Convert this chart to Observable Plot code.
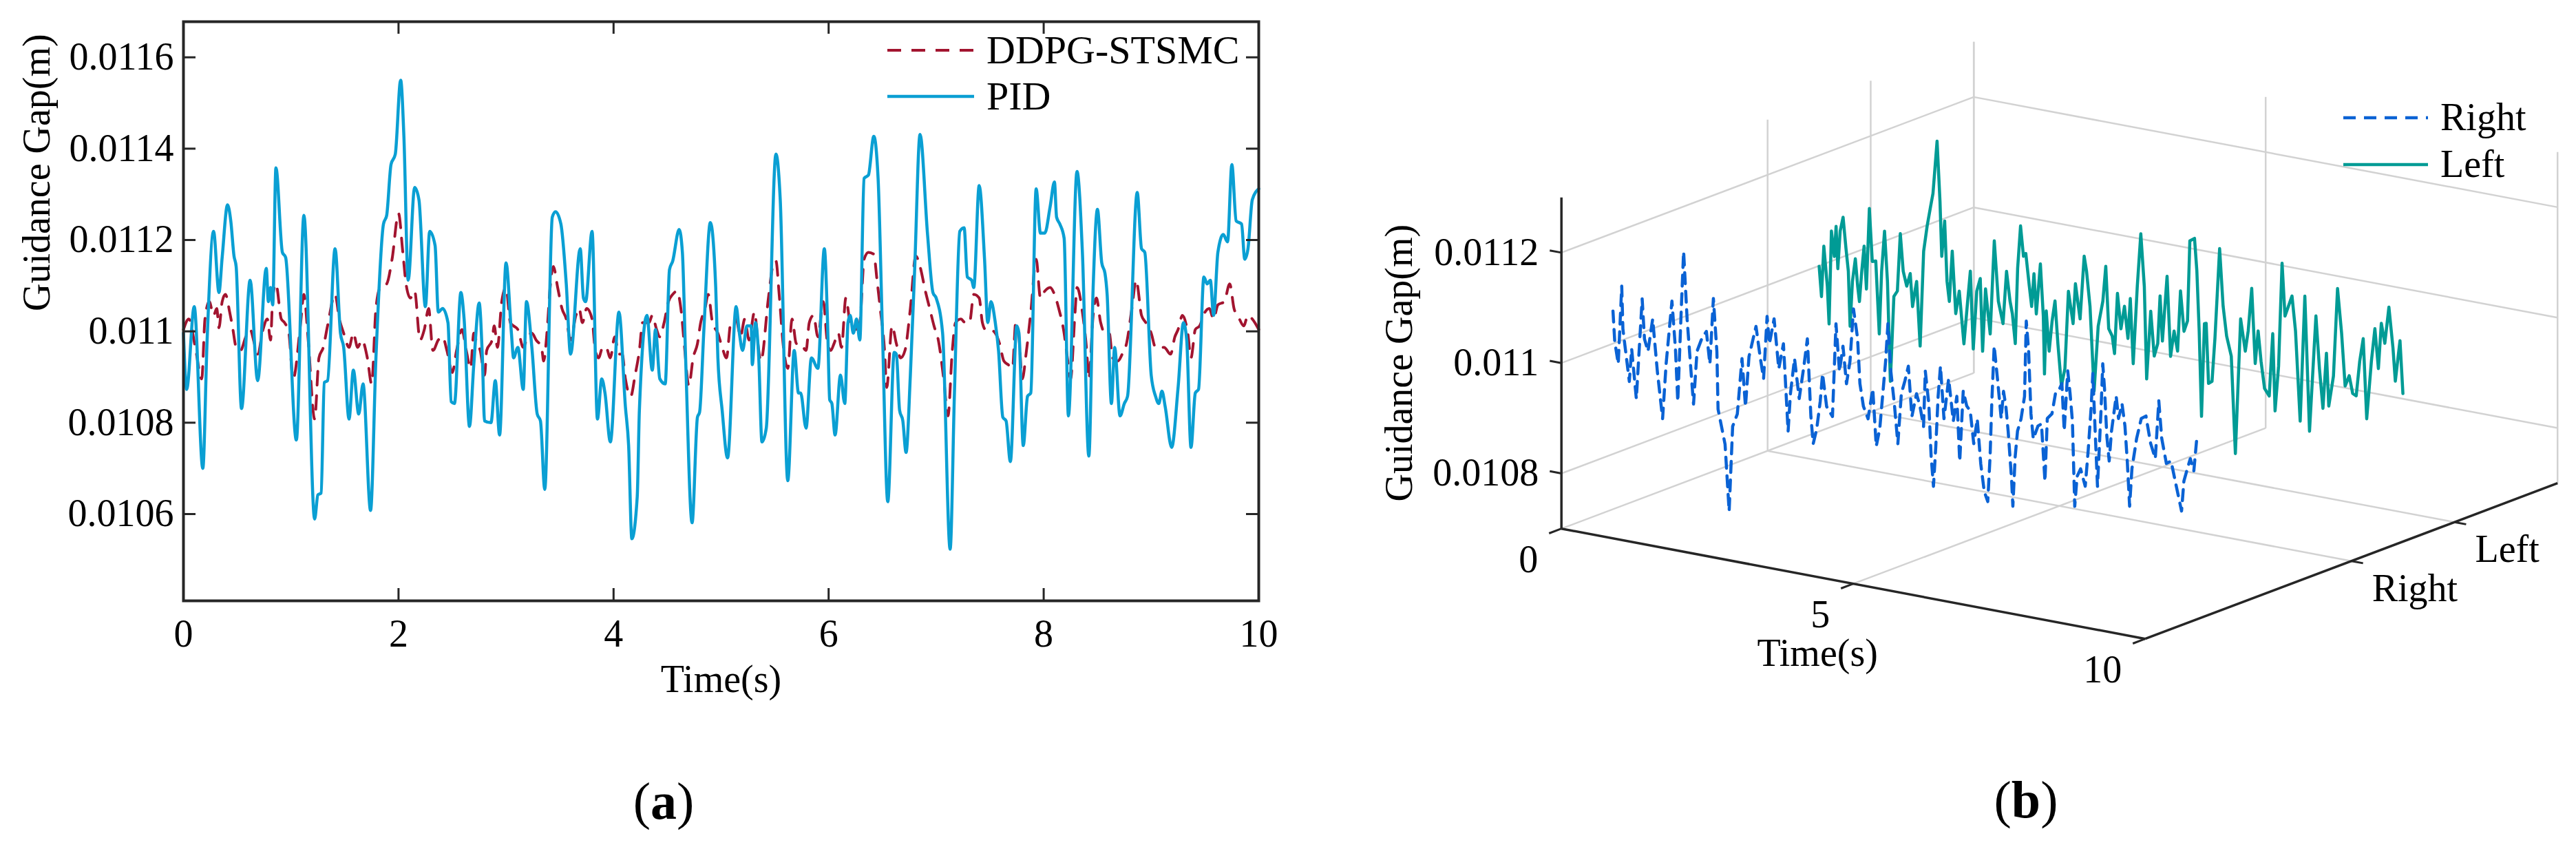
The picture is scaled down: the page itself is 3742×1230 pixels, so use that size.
<!DOCTYPE html>
<html><head><meta charset="utf-8">
<script src="https://cdn.jsdelivr.net/npm/d3@7"></script>
<script src="https://cdn.jsdelivr.net/npm/@observablehq/plot@0.6"></script>
<style>
html,body{margin:0;padding:0;background:#fff;}
#fig{position:relative;width:3742px;height:1230px;background:#fff;font-family:"Liberation Serif","Times New Roman",serif;overflow:hidden;}
.panel{position:absolute;top:0;}
.cap{position:absolute;font-size:76px;transform:translate(-50%,-50%);color:#000;white-space:nowrap;}
#legend{position:absolute;left:0;top:0;}
</style></head><body>
<div id="fig">
  <div id="pa" class="panel" style="left:0px"></div>
  <div id="pb" class="panel" style="left:1900px"></div>
  <div id="capA" class="cap" style="left:964px;top:1163px"></div>
  <div id="capB" class="cap" style="left:2943px;top:1161px"></div>
</div>
<script>
// ---------------- DATA : panel (a) ----------------
const seriesNamesA = ["DDPG-STSMC", "PID"];
const colorsA = ["#A2142F", "#0a9fd3"];
const xTicksA = [0, 2, 4, 6, 8, 10];
const xTickLabelsA = ["0", "2", "4", "6", "8", "10"];
const yTicksA = [0.0106, 0.0108, 0.011, 0.0112, 0.0114, 0.0116];
const yTickLabelsA = ["0.0106", "0.0108", "0.011", "0.0112", "0.0114", "0.0116"];
const yDomainA = [0.010410, 0.011678];
const xDomainA = [0, 10];

// [time (s), guidance gap (m)]
const pid = [[0.00,0.010996],[0.03,0.010873],[0.10,0.011054],[0.18,0.010700],[0.22,0.010981],[0.28,0.011219],[0.33,0.011085],[0.36,0.011162],[0.41,0.011277],[0.44,0.011242],[0.47,0.011165],[0.49,0.011142],[0.54,0.010831],[0.62,0.011112],[0.69,0.010892],[0.77,0.011138],[0.79,0.011065],[0.81,0.011096],[0.83,0.011058],[0.86,0.011358],[0.92,0.011173],[0.95,0.011162],[1.05,0.010762],[1.12,0.011254],[1.22,0.010589],[1.25,0.010642],[1.28,0.010646],[1.31,0.010888],[1.34,0.010892],[1.41,0.011181],[1.46,0.010996],[1.49,0.010965],[1.54,0.010808],[1.58,0.010915],[1.63,0.010819],[1.67,0.010885],[1.74,0.010608],[1.79,0.010942],[1.86,0.011235],[1.89,0.011254],[1.93,0.011365],[1.97,0.011388],[2.02,0.011550],[2.05,0.011427],[2.09,0.011112],[2.15,0.011315],[2.19,0.011288],[2.25,0.011054],[2.29,0.011219],[2.34,0.011188],[2.37,0.011042],[2.41,0.011050],[2.46,0.011019],[2.49,0.010846],[2.52,0.010842],[2.58,0.011085],[2.61,0.011027],[2.66,0.010792],[2.70,0.010927],[2.75,0.011062],[2.78,0.010942],[2.80,0.010804],[2.86,0.010800],[2.90,0.010892],[2.94,0.010773],[3.00,0.011150],[3.05,0.010996],[3.07,0.010942],[3.11,0.010965],[3.16,0.010873],[3.19,0.011065],[3.24,0.010965],[3.29,0.010819],[3.32,0.010804],[3.36,0.010654],[3.43,0.011250],[3.46,0.011262],[3.51,0.011235],[3.56,0.011104],[3.60,0.010950],[3.69,0.011181],[3.72,0.011073],[3.74,0.011065],[3.80,0.011219],[3.85,0.010808],[3.89,0.010896],[3.92,0.010865],[3.97,0.010758],[4.05,0.011042],[4.11,0.010835],[4.14,0.010750],[4.17,0.010546],[4.22,0.010638],[4.24,0.010827],[4.31,0.011035],[4.36,0.010915],[4.39,0.011004],[4.43,0.010896],[4.48,0.010885],[4.52,0.011135],[4.55,0.011154],[4.61,0.011223],[4.64,0.011173],[4.67,0.010942],[4.73,0.010581],[4.78,0.010812],[4.80,0.010823],[4.84,0.011004],[4.90,0.011238],[4.95,0.011096],[4.97,0.010942],[5.01,0.010827],[5.06,0.010723],[5.14,0.011054],[5.17,0.010996],[5.20,0.010958],[5.24,0.011012],[5.28,0.011012],[5.29,0.010927],[5.32,0.011019],[5.35,0.010942],[5.38,0.010758],[5.42,0.010788],[5.51,0.011388],[5.55,0.011288],[5.62,0.010673],[5.68,0.010958],[5.72,0.010865],[5.74,0.010865],[5.79,0.010788],[5.84,0.010942],[5.90,0.010919],[5.96,0.011181],[5.99,0.011019],[6.01,0.010850],[6.03,0.010842],[6.06,0.010773],[6.11,0.010904],[6.15,0.010842],[6.18,0.011019],[6.20,0.011035],[6.23,0.010996],[6.26,0.011027],[6.29,0.010981],[6.33,0.011335],[6.37,0.011342],[6.42,0.011427],[6.46,0.011335],[6.50,0.011004],[6.55,0.010627],[6.61,0.010954],[6.63,0.010950],[6.66,0.010827],[6.69,0.010804],[6.72,0.010735],[6.76,0.010904],[6.80,0.011135],[6.85,0.011431],[6.92,0.011212],[6.97,0.011085],[7.00,0.011073],[7.06,0.010996],[7.13,0.010523],[7.17,0.010865],[7.22,0.011219],[7.26,0.011227],[7.29,0.011119],[7.33,0.011112],[7.35,0.011096],[7.40,0.011319],[7.45,0.011158],[7.48,0.011019],[7.51,0.011065],[7.55,0.011019],[7.58,0.010958],[7.62,0.010812],[7.65,0.010804],[7.69,0.010715],[7.75,0.011012],[7.77,0.010996],[7.81,0.010750],[7.85,0.010858],[7.88,0.010865],[7.93,0.011312],[7.97,0.011215],[8.01,0.011215],[8.06,0.011273],[8.10,0.011327],[8.12,0.011250],[8.15,0.011235],[8.19,0.011204],[8.23,0.010815],[8.31,0.011350],[8.36,0.011173],[8.42,0.010727],[8.46,0.011096],[8.50,0.011267],[8.54,0.011150],[8.57,0.011127],[8.59,0.011081],[8.63,0.010842],[8.66,0.010965],[8.71,0.010815],[8.75,0.010842],[8.78,0.010858],[8.87,0.011304],[8.91,0.011181],[8.94,0.011173],[9.00,0.010904],[9.04,0.010858],[9.07,0.010842],[9.10,0.010869],[9.13,0.010835],[9.19,0.010746],[9.25,0.010877],[9.30,0.011019],[9.33,0.010981],[9.37,0.010746],[9.41,0.010865],[9.44,0.010873],[9.49,0.011119],[9.52,0.011104],[9.55,0.011112],[9.58,0.011035],[9.62,0.011173],[9.67,0.011212],[9.71,0.011196],[9.75,0.011365],[9.79,0.011242],[9.84,0.011235],[9.87,0.011158],[9.90,0.011181],[9.94,0.011288],[10.00,0.011312]];

const ddpg = [[0.00,0.011004],[0.05,0.011027],[0.11,0.010965],[0.17,0.010896],[0.20,0.011027],[0.24,0.011065],[0.28,0.011035],[0.31,0.011050],[0.33,0.011008],[0.36,0.011065],[0.39,0.011081],[0.43,0.011042],[0.46,0.011004],[0.49,0.010965],[0.53,0.010958],[0.58,0.010988],[0.62,0.011004],[0.66,0.010973],[0.69,0.010950],[0.74,0.011004],[0.78,0.011027],[0.81,0.010981],[0.83,0.011073],[0.86,0.011104],[0.91,0.011027],[0.94,0.011019],[0.98,0.010996],[1.02,0.010896],[1.09,0.011019],[1.12,0.011081],[1.16,0.010981],[1.22,0.010808],[1.26,0.010942],[1.30,0.010965],[1.34,0.011012],[1.41,0.011081],[1.45,0.011027],[1.49,0.010996],[1.54,0.010965],[1.58,0.010996],[1.62,0.010965],[1.66,0.010981],[1.71,0.010942],[1.75,0.010885],[1.79,0.011050],[1.83,0.011096],[1.89,0.011104],[1.94,0.011158],[2.00,0.011258],[2.04,0.011173],[2.07,0.011104],[2.11,0.011073],[2.15,0.011088],[2.20,0.010981],[2.24,0.011004],[2.28,0.011050],[2.32,0.010958],[2.37,0.010981],[2.41,0.010988],[2.45,0.010958],[2.50,0.010910],[2.54,0.010958],[2.59,0.011004],[2.63,0.010958],[2.67,0.010919],[2.70,0.010996],[2.73,0.010973],[2.76,0.010958],[2.80,0.010904],[2.82,0.010958],[2.87,0.010981],[2.89,0.011012],[2.92,0.010965],[2.96,0.011065],[3.00,0.011096],[3.04,0.011019],[3.07,0.011012],[3.11,0.011004],[3.16,0.010965],[3.20,0.010988],[3.24,0.010996],[3.28,0.010981],[3.33,0.010965],[3.35,0.010935],[3.38,0.010996],[3.41,0.011096],[3.44,0.011142],[3.48,0.011096],[3.52,0.011050],[3.56,0.011027],[3.60,0.010981],[3.65,0.011035],[3.68,0.011050],[3.71,0.011019],[3.75,0.011050],[3.80,0.011027],[3.83,0.010958],[3.86,0.010942],[3.90,0.010965],[3.93,0.010965],[3.97,0.010942],[4.01,0.010988],[4.05,0.010950],[4.08,0.010950],[4.11,0.010896],[4.16,0.010858],[4.20,0.010904],[4.24,0.010958],[4.27,0.011019],[4.33,0.011019],[4.36,0.011035],[4.40,0.011004],[4.43,0.010988],[4.47,0.011019],[4.51,0.011065],[4.55,0.011081],[4.59,0.011088],[4.63,0.011042],[4.66,0.010965],[4.70,0.010881],[4.74,0.010942],[4.78,0.010973],[4.81,0.011019],[4.85,0.011050],[4.88,0.011081],[4.92,0.011019],[4.97,0.010996],[5.01,0.010965],[5.05,0.010942],[5.09,0.011019],[5.14,0.011027],[5.18,0.010988],[5.22,0.011027],[5.26,0.010981],[5.31,0.011042],[5.35,0.010958],[5.37,0.010935],[5.44,0.011073],[5.48,0.011142],[5.51,0.011154],[5.54,0.011081],[5.58,0.010965],[5.62,0.010919],[5.66,0.011027],[5.70,0.010973],[5.74,0.010973],[5.79,0.010958],[5.82,0.011019],[5.86,0.011035],[5.90,0.010988],[5.95,0.011065],[5.99,0.010973],[6.02,0.010958],[6.05,0.010973],[6.09,0.010996],[6.12,0.010965],[6.16,0.011073],[6.20,0.011019],[6.25,0.011004],[6.29,0.011019],[6.33,0.011158],[6.37,0.011173],[6.42,0.011169],[6.45,0.011112],[6.48,0.011050],[6.52,0.010958],[6.54,0.010877],[6.59,0.011012],[6.63,0.010973],[6.67,0.010942],[6.71,0.010958],[6.76,0.011050],[6.81,0.011165],[6.85,0.011142],[6.90,0.011088],[6.94,0.011050],[6.98,0.011012],[7.02,0.010981],[7.07,0.010896],[7.11,0.010815],[7.15,0.010958],[7.18,0.011019],[7.23,0.011027],[7.27,0.011019],[7.31,0.011019],[7.35,0.011081],[7.40,0.011073],[7.43,0.011019],[7.46,0.011004],[7.50,0.011004],[7.55,0.010996],[7.59,0.010973],[7.63,0.010935],[7.67,0.010927],[7.71,0.010919],[7.74,0.011019],[7.77,0.010988],[7.80,0.010896],[7.84,0.010958],[7.88,0.011042],[7.93,0.011158],[7.97,0.011073],[8.01,0.011088],[8.06,0.011096],[8.10,0.011081],[8.14,0.011050],[8.19,0.010996],[8.22,0.010942],[8.25,0.010896],[8.29,0.011035],[8.31,0.011096],[8.36,0.011042],[8.40,0.010958],[8.42,0.010896],[8.46,0.011035],[8.49,0.011073],[8.53,0.011019],[8.57,0.010996],[8.61,0.010996],[8.64,0.010942],[8.69,0.010935],[8.73,0.010950],[8.77,0.010973],[8.82,0.011050],[8.86,0.011112],[8.91,0.011035],[8.95,0.011019],[9.00,0.010996],[9.04,0.010965],[9.08,0.010965],[9.12,0.010965],[9.18,0.010950],[9.22,0.010988],[9.25,0.011004],[9.29,0.011035],[9.34,0.010996],[9.37,0.010942],[9.41,0.011004],[9.45,0.011012],[9.50,0.011042],[9.54,0.011050],[9.58,0.011027],[9.62,0.011058],[9.68,0.011065],[9.73,0.011104],[9.77,0.011050],[9.82,0.011027],[9.86,0.011012],[9.90,0.011035],[9.94,0.011027],[10.00,0.011004]];

// ---------------- DATA : panel (b) ----------------
const seriesNamesB = ["Right", "Left"];
const colorsB = ["#0a62d4", "#009b95"];
const seriesLatB = [0.5, 2.5];          // lateral coordinate of each series
const tTicksB = [0, 5, 10];
const tTickLabelsB = ["0", "5", "10"];
const latTicksB = [2, 3];
const latTickLabelsB = ["Right", "Left"];
const zTicksB = [0.0108, 0.011, 0.0112];
const zTickLabelsB = ["0.0108", "0.011", "0.0112"];
const tDomB = [0, 10], latDomB = [0, 4], zDomB = [0.0107, 0.0113];

const rightB = [[0.00,0.011059],[0.03,0.011005],[0.09,0.010965],[0.15,0.011107],[0.17,0.011030],[0.28,0.010937],[0.32,0.010997],[0.40,0.010908],[0.50,0.011091],[0.54,0.011019],[0.60,0.010998],[0.68,0.011058],[0.76,0.010965],[0.85,0.010881],[0.91,0.010981],[1.01,0.011097],[1.07,0.011012],[1.11,0.010917],[1.17,0.011086],[1.21,0.011191],[1.27,0.011070],[1.35,0.010958],[1.38,0.010918],[1.44,0.011015],[1.52,0.011039],[1.60,0.011054],[1.66,0.010996],[1.72,0.011116],[1.78,0.011021],[1.80,0.010917],[1.92,0.010856],[1.99,0.010736],[2.05,0.010891],[2.13,0.010915],[2.21,0.011017],[2.27,0.010931],[2.33,0.011023],[2.45,0.011080],[2.52,0.011027],[2.58,0.010988],[2.64,0.011102],[2.68,0.011053],[2.76,0.011100],[2.84,0.011011],[2.92,0.011058],[3.00,0.010901],[3.04,0.010970],[3.11,0.011035],[3.19,0.010964],[3.27,0.011024],[3.33,0.011075],[3.39,0.010936],[3.43,0.010887],[3.49,0.010915],[3.55,0.010966],[3.59,0.011017],[3.66,0.010959],[3.76,0.010943],[3.82,0.011112],[3.88,0.011027],[3.94,0.011074],[4.00,0.011007],[4.06,0.011049],[4.12,0.011145],[4.19,0.011093],[4.23,0.011012],[4.29,0.010972],[4.37,0.010951],[4.45,0.011007],[4.51,0.010904],[4.57,0.010937],[4.63,0.011011],[4.67,0.011061],[4.71,0.011130],[4.76,0.011045],[4.82,0.010987],[4.88,0.010916],[4.94,0.011008],[5.00,0.011032],[5.06,0.011060],[5.12,0.010970],[5.20,0.011013],[5.26,0.010991],[5.32,0.010956],[5.35,0.011057],[5.41,0.010999],[5.45,0.010905],[5.49,0.010851],[5.53,0.010924],[5.57,0.011016],[5.61,0.011071],[5.67,0.010977],[5.75,0.011051],[5.83,0.010976],[5.89,0.011022],[5.94,0.010905],[6.00,0.011034],[6.06,0.011008],[6.12,0.011000],[6.18,0.010942],[6.24,0.010988],[6.30,0.010908],[6.36,0.010859],[6.42,0.010842],[6.46,0.010925],[6.49,0.011025],[6.53,0.011126],[6.59,0.011064],[6.65,0.010997],[6.69,0.011047],[6.73,0.011021],[6.77,0.010976],[6.83,0.010887],[6.85,0.010842],[6.89,0.010933],[6.93,0.010980],[6.99,0.011003],[7.05,0.011045],[7.08,0.011182],[7.12,0.011129],[7.16,0.011016],[7.20,0.010971],[7.28,0.010996],[7.34,0.011001],[7.40,0.010898],[7.44,0.011013],[7.52,0.011023],[7.58,0.011061],[7.63,0.011066],[7.69,0.011081],[7.73,0.010996],[7.79,0.011106],[7.83,0.011066],[7.87,0.011017],[7.91,0.010863],[7.95,0.010918],[8.01,0.010933],[8.09,0.010903],[8.14,0.010968],[8.19,0.011046],[8.22,0.011110],[8.26,0.011006],[8.30,0.010907],[8.36,0.011045],[8.39,0.011131],[8.42,0.011087],[8.46,0.011001],[8.50,0.010957],[8.54,0.011012],[8.62,0.011077],[8.66,0.011037],[8.72,0.011065],[8.77,0.011026],[8.81,0.010963],[8.85,0.010882],[8.89,0.010951],[8.97,0.011007],[9.05,0.011045],[9.13,0.011051],[9.21,0.011003],[9.29,0.010977],[9.35,0.011083],[9.40,0.011016],[9.48,0.010972],[9.56,0.010978],[9.64,0.010939],[9.74,0.010891],[9.78,0.010946],[9.84,0.010970],[9.89,0.010989],[9.95,0.010968],[10.00,0.011027]];

const leftB = [[0.00,0.010999],[0.04,0.010945],[0.08,0.011037],[0.14,0.010966],[0.17,0.010898],[0.21,0.011067],[0.26,0.011022],[0.29,0.011077],[0.32,0.011001],[0.36,0.011070],[0.41,0.011096],[0.46,0.011040],[0.50,0.011000],[0.53,0.010901],[0.57,0.010983],[0.62,0.011025],[0.66,0.010976],[0.69,0.010949],[0.73,0.011005],[0.77,0.011051],[0.81,0.010974],[0.86,0.011121],[0.91,0.011026],[0.97,0.011028],[1.03,0.010897],[1.07,0.011011],[1.12,0.011085],[1.17,0.010995],[1.22,0.010815],[1.28,0.010970],[1.34,0.010981],[1.39,0.011086],[1.44,0.011019],[1.50,0.010993],[1.56,0.011017],[1.60,0.010958],[1.64,0.010986],[1.67,0.011005],[1.73,0.010889],[1.79,0.011062],[1.85,0.011109],[1.91,0.011146],[1.95,0.011170],[2.02,0.011266],[2.07,0.011158],[2.10,0.011059],[2.15,0.011124],[2.19,0.011016],[2.23,0.010980],[2.28,0.011072],[2.34,0.010960],[2.40,0.011002],[2.48,0.010908],[2.54,0.010982],[2.59,0.011042],[2.64,0.010902],[2.70,0.011008],[2.76,0.011032],[2.80,0.010901],[2.85,0.011015],[2.93,0.010935],[3.00,0.011105],[3.07,0.010997],[3.15,0.010958],[3.21,0.011054],[3.27,0.011001],[3.31,0.010979],[3.36,0.010926],[3.40,0.011063],[3.45,0.011141],[3.50,0.011087],[3.54,0.011093],[3.60,0.011035],[3.64,0.010999],[3.68,0.011059],[3.72,0.010987],[3.79,0.011079],[3.84,0.010985],[3.86,0.010881],[3.89,0.010996],[3.94,0.010924],[3.99,0.010979],[4.04,0.011017],[4.09,0.010940],[4.15,0.010865],[4.21,0.010898],[4.27,0.011039],[4.35,0.010982],[4.39,0.011055],[4.47,0.010993],[4.54,0.011108],[4.58,0.011082],[4.64,0.011019],[4.71,0.010867],[4.78,0.010986],[4.86,0.011033],[4.91,0.011097],[4.96,0.010985],[5.02,0.010973],[5.06,0.010942],[5.11,0.011052],[5.17,0.010989],[5.23,0.011031],[5.29,0.010974],[5.33,0.011047],[5.38,0.010930],[5.45,0.011072],[5.51,0.011168],[5.57,0.011074],[5.61,0.010907],[5.68,0.011031],[5.74,0.010951],[5.80,0.010975],[5.84,0.011062],[5.88,0.010981],[5.96,0.011100],[6.02,0.010956],[6.08,0.011003],[6.14,0.010968],[6.19,0.011078],[6.25,0.011006],[6.31,0.011026],[6.35,0.011172],[6.43,0.011178],[6.47,0.011120],[6.51,0.011012],[6.55,0.010858],[6.60,0.011027],[6.63,0.011028],[6.67,0.010920],[6.73,0.010925],[6.78,0.011004],[6.86,0.011168],[6.92,0.011065],[6.98,0.011012],[7.06,0.010977],[7.13,0.010802],[7.22,0.011048],[7.30,0.010991],[7.35,0.011029],[7.41,0.011107],[7.47,0.010972],[7.52,0.011032],[7.57,0.010978],[7.63,0.010930],[7.71,0.010918],[7.77,0.011032],[7.81,0.010893],[7.87,0.010975],[7.93,0.011163],[7.98,0.011068],[8.10,0.011107],[8.16,0.011045],[8.24,0.010883],[8.32,0.011111],[8.40,0.010868],[8.51,0.011079],[8.57,0.010985],[8.63,0.010914],[8.69,0.011015],[8.73,0.010920],[8.81,0.010976],[8.88,0.011136],[8.95,0.011056],[9.01,0.010962],[9.08,0.010982],[9.14,0.010951],[9.20,0.010948],[9.26,0.011012],[9.32,0.011054],[9.38,0.010910],[9.46,0.011016],[9.52,0.011076],[9.58,0.011005],[9.63,0.011088],[9.69,0.011053],[9.76,0.011120],[9.83,0.011047],[9.87,0.010988],[9.95,0.011063],[10.00,0.010968]];

const captions = ["a", "b"];

// ---------------- styling / layout constants ----------------
const FONT = "'Liberation Serif', 'Times New Roman', serif";
const AX = "#262626";
const GRID = "#d2d2d2";

// ---------------- panel (a) ----------------
const WA = 1900, HA = 1080, mL = 266, mR = 72, mT = 31, mB = 208;
const fw = WA - mL - mR, fh = HA - mT - mB, tk = 18;
const labA = (arr, labels) => d => labels[arr.indexOf(d)];

const plotA = Plot.plot({
  width: WA, height: HA,
  marginLeft: mL, marginRight: mR, marginTop: mT, marginBottom: mB,
  style: {fontFamily: FONT, fontSize: "56px", color: "#000", background: "transparent", overflow: "visible"},
  x: {domain: xDomainA, ticks: xTicksA},
  y: {domain: yDomainA, ticks: yTicksA},
  marks: [
    Plot.line(ddpg, {x: d => d[0], y: d => d[1], stroke: colorsA[0], strokeWidth: 4, strokeDasharray: "20,15", curve: "monotone-x"}),
    Plot.line(pid, {x: d => d[0], y: d => d[1], stroke: colorsA[1], strokeWidth: 4.5, curve: "monotone-x"}),
    Plot.tickY(yTicksA, {y: d => d, stroke: AX, strokeWidth: 3, insetRight: fw - tk}),
    Plot.tickY(yTicksA, {y: d => d, stroke: AX, strokeWidth: 3, insetLeft: fw - tk}),
    Plot.tickX(xTicksA, {x: d => d, stroke: AX, strokeWidth: 3, insetTop: fh - tk}),
    Plot.tickX(xTicksA, {x: d => d, stroke: AX, strokeWidth: 3, insetBottom: fh - tk}),
    Plot.frame({stroke: AX, strokeWidth: 4}),
    Plot.axisY({ticks: yTicksA, tickSize: 0, tickPadding: 14, tickFormat: labA(yTicksA, yTickLabelsA), label: null, fontSize: 56}),
    Plot.axisX({ticks: xTicksA, tickSize: 0, tickPadding: 27, tickFormat: labA(xTicksA, xTickLabelsA), label: null, fontSize: 56}),
    Plot.text(["Guidance Gap(m)"], {frameAnchor: "left", rotate: -90, dx: -212, text: d => d, fontSize: 56, fill: "#000", lineAnchor: "middle"}),
    Plot.text(["Time(s)"], {frameAnchor: "bottom", dy: 115, text: d => d, fontSize: 56, fill: "#000", lineAnchor: "middle"})
  ]
});
document.getElementById("pa").append(plotA);

// ---------------- panel (b): 3-D projection ----------------
const O = [2267.7, 767.2], TV = [848, 160], LV = [599, -226], ZH = 481;
function P(t, lat, z) {
  const a = (t - tDomB[0]) / (tDomB[1] - tDomB[0]);
  const b = (lat - latDomB[0]) / (latDomB[1] - latDomB[0]);
  const c = (z - zDomB[0]) / (zDomB[1] - zDomB[0]);
  return [O[0] + a * TV[0] + b * LV[0], O[1] + a * TV[1] + b * LV[1] - c * ZH];
}
const [t0, t1] = tDomB, [l0, l1] = latDomB, [z0, z1] = zDomB;
const grid = [];
zTicksB.forEach(z => { grid.push([[t0, l0, z], [t0, l1, z]]); grid.push([[t0, l1, z], [t1, l1, z]]); });
latTicksB.concat([l1]).forEach(l => grid.push([[t0, l, z0], [t0, l, z1]]));
tTicksB.forEach(t => { grid.push([[t, l1, z0], [t, l1, z1]]); grid.push([[t, l0, z0], [t, l1, z0]]); });
latTicksB.forEach(l => grid.push([[t0, l, z0], [t1, l, z0]]));

const axes = [[[t0, l0, z0], [t0, l0, z1]], [[t0, l0, z0], [t1, l0, z0]], [[t1, l0, z0], [t1, l1, z0]]];
const ticks = [];
zTicksB.forEach(z => ticks.push({p: [t0, l0, z], d: [-TV[0] * 0.02, -TV[1] * 0.02]}));
tTicksB.forEach(t => ticks.push({p: [t, l0, z0], d: [-LV[0] * 0.03, -LV[1] * 0.03]}));
latTicksB.forEach(l => ticks.push({p: [t1, l, z0], d: [TV[0] * 0.02, TV[1] * 0.02]}));

const seg = (s) => ({x1: d => P(...d[0])[0], y1: d => P(...d[0])[1], x2: d => P(...d[1])[0], y2: d => P(...d[1])[1], ...s});
const lineB = (data, lat, s) => Plot.line(data, {x: d => P(d[0], lat, d[1])[0], y: d => P(d[0], lat, d[1])[1], ...s});

const WB = 1842, HB = 1080;
const plotB = Plot.plot({
  width: WB, height: HB, margin: 0,
  style: {fontFamily: FONT, fontSize: "56px", color: "#000", background: "transparent", overflow: "visible"},
  x: {type: "linear", domain: [1900, 1900 + WB], range: [0, WB], axis: null},
  y: {type: "linear", domain: [0, HB], range: [0, HB], axis: null},
  marks: [
    Plot.link(grid, seg({stroke: GRID, strokeWidth: 2.5})),
    lineB(leftB, seriesLatB[1], {stroke: colorsB[1], strokeWidth: 4.5}),
    lineB(rightB, seriesLatB[0], {stroke: colorsB[0], strokeWidth: 4.5, strokeDasharray: "16,11"}),
    Plot.link(axes, seg({stroke: AX, strokeWidth: 3.5})),
    Plot.link(ticks, {x1: d => P(...d.p)[0], y1: d => P(...d.p)[1], x2: d => P(...d.p)[0] + d.d[0], y2: d => P(...d.p)[1] + d.d[1], stroke: AX, strokeWidth: 3}),
    Plot.text(zTicksB, {x: d => P(t0, l0, d)[0], y: d => P(t0, l0, d)[1], text: labA(zTicksB, zTickLabelsB), textAnchor: "end", dx: -33, fontSize: 56, fill: "#000", lineAnchor: "middle"}),
    Plot.text(tTicksB, {x: d => P(d, l0, z0)[0], y: d => P(d, l0, z0)[1], text: labA(tTicksB, tTickLabelsB), textAnchor: "end", dx: -34, dy: 45, fontSize: 56, fill: "#000", lineAnchor: "middle"}),
    Plot.text(latTicksB, {x: d => P(t1, d, z0)[0], y: d => P(t1, d, z0)[1], text: labA(latTicksB, latTickLabelsB), textAnchor: "start", dx: 30, dy: 40, fontSize: 56, fill: "#000", lineAnchor: "middle"}),
    Plot.text(["Time(s)"], {x: () => P((t0 + t1) / 2, l0, z0)[0], y: () => P((t0 + t1) / 2, l0, z0)[1], text: d => d, dx: -52, dy: 101, fontSize: 56, fill: "#000", lineAnchor: "middle"}),
    Plot.text(["Guidance Gap(m)"], {x: () => P(t0, l0, (z0 + z1) / 2)[0], y: () => P(t0, l0, (z0 + z1) / 2)[1], text: d => d, rotate: -90, dx: -235, fontSize: 56, fill: "#000", lineAnchor: "middle"})
  ]
});
document.getElementById("pb").append(plotB);

// ---------------- legends (overlay) ----------------
const leg = d3.select("#fig").append("svg").attr("id", "legend").attr("width", 3742).attr("height", 300)
  .style("font-family", FONT);
const legendItems = [
  {x: 1289, y: 73,  len: 126, color: colorsA[0], dash: "20,15", w: 4,   label: seriesNamesA[0], fs: 58},
  {x: 1289, y: 140, len: 126, color: colorsA[1], dash: null,    w: 4.5, label: seriesNamesA[1], fs: 58},
  {x: 3404, y: 171, len: 123, color: colorsB[0], dash: "18,12", w: 4.5, label: seriesNamesB[0], fs: 56},
  {x: 3404, y: 239, len: 123, color: colorsB[1], dash: null,    w: 4.5, label: seriesNamesB[1], fs: 56}
];
legendItems.forEach(it => {
  leg.append("line").attr("x1", it.x).attr("x2", it.x + it.len).attr("y1", it.y).attr("y2", it.y)
    .attr("stroke", it.color).attr("stroke-width", it.w).attr("stroke-dasharray", it.dash);
  leg.append("text").attr("x", it.x + it.len + 18).attr("y", it.y).attr("dy", "0.33em")
    .attr("font-size", it.fs).attr("fill", "#000").text(it.label);
});

// ---------------- captions ----------------
document.getElementById("capA").innerHTML = "(<b>" + captions[0] + "</b>)";
document.getElementById("capB").innerHTML = "(<b>" + captions[1] + "</b>)";
</script>
</body></html>
